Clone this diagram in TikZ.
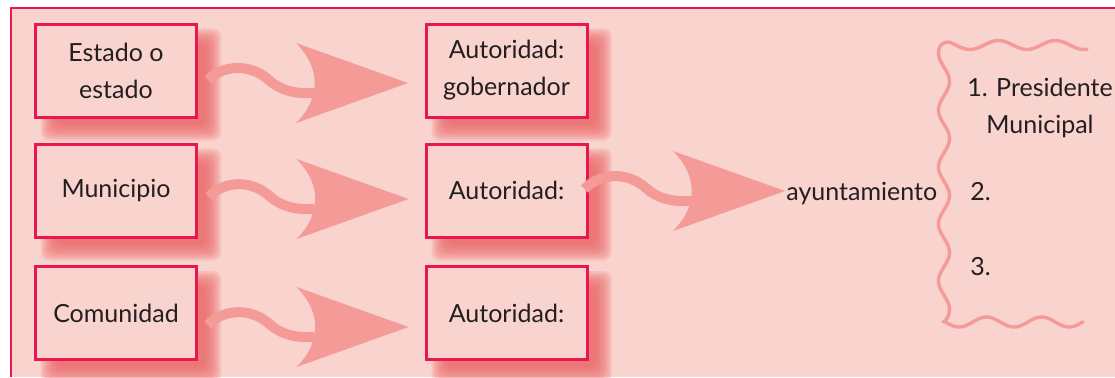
\documentclass[tikz,border=0pt]{standalone}
\usepackage{fontspec}
\setmainfont{Lato}
\usetikzlibrary{calc}
\definecolor{bgpink}{HTML}{F9D3CD}
\definecolor{framered}{HTML}{E8174F}
\definecolor{arrowc}{HTML}{F49A97}
\definecolor{shadowc}{HTML}{EC6769}
\definecolor{textc}{HTML}{231F20}
\pgfdeclarelayer{bottom}
\pgfdeclarelayer{back}
\pgfsetlayers{bottom,back,main}
\newcommand\wavyarrow[2]{%
  \coordinate (ws) at ($#1$);
  \coordinate (wt) at ($#2$);
  \coordinate (wh) at ($(wt)+(-112,0)$);
  \fill[headc] ($(wh)+(0,-40)$) -- (wt) -- ($(wh)+(0,40)$)
     .. controls ($(wh)+(25,15)$) and ($(wh)+(25,-15)$) .. cycle;
  \draw[tailc] (ws) .. controls ($(wh)+(-72,-19)$) and ($(wh)+(-45,-19)$) .. ($(wh)+(-27,-3)$)
     .. controls ($(wh)+(-15,8)$) and ($(wh)+(0,11)$) .. ($(wh)+(18,10)$);
}
\begin{document}
\begin{tikzpicture}[x=0.5pt,y=-0.5pt,
  box/.style={draw=framered, line width=1.5pt, fill=bgpink, minimum width=80.5pt,
    minimum height=46.5pt, align=center, inner sep=0pt,
    font=\fontsize{12.5}{18.5}\selectfont, text=textc},
  lbl/.style={inner sep=0pt, font=\fontsize{12.5}{18.5}\selectfont, text=textc},
  tailc/.style={draw=arrowc, line width=5pt},
  headc/.style={fill=arrowc},
  wave/.style={draw=arrowc, line width=1.7pt, line cap=round, line join=round}]
\useasboundingbox (0,0) rectangle (1115,377);
\begin{pgfonlayer}{bottom}
\fill[white] (0,0) rectangle (1115,377);
\fill[bgpink] (11,8) rectangle (1115,377);
\draw[framered, line width=1.25pt] (1115,8) -- (11,8) -- (11,377);
\end{pgfonlayer}

\node[box] (est) at (116,70.5) {Estado o\\estado};
\node[box] (mun) at (116,190.5) {Municipio};
\node[box] (com) at (116,313) {Comunidad};
\node[box] (aut1) at (506.5,70.5) {Autoridad:\\gobernador};
\node[box] (aut2) at (506.5,190.5) {Autoridad:};
\node[box] (aut3) at (506.5,313) {Autoridad:};
\node[lbl, anchor=base west] (ayto) at (786,200) {ayuntamiento};
\node[lbl, align=center] (p1) at (1040,108) {1. Presidente\\Municipal};
\node[lbl, anchor=base west] (p2) at (970,200) {2.};
\node[lbl, anchor=base west] (p3) at (970,275) {3.};

\begin{pgfonlayer}{back}
\foreach \n in {est,mun,com,aut1,aut2,aut3}{
  \foreach \e in {8,6,4,2,0,-2,-4,-6,-8}{
    \fill[shadowc, opacity=0.18, rounded corners=4pt]
      ($(\n.north west)+(15-\e,14-\e)$) rectangle ($(\n.south east)+(15+\e,14+\e)$);
  }}
\end{pgfonlayer}

\wavyarrow{(est.east)+(10,9.5)}{(aut1.west)+(-16.5,12.5)}
\wavyarrow{(mun.east)+(11,6.5)}{(aut2.west)+(-16,8.5)}
\wavyarrow{(com.east)+(10,12)}{(aut3.west)+(-16,14)}
\wavyarrow{(aut2.east)+(-4,-1.5)}{(ayto.base west)+(-1,-9)}

\draw[wave] plot[domain=1087:950, samples=80, variable=\t] (\t, {45+4.5*cos(6.3158*(\t-970))})
  .. controls (942,41) and (938,47) .. (938.5,53)
  -- plot[domain=53:315, samples=150, variable=\t] ({944-5.5*cos(6.3158*(\t-53))}, \t)
  .. controls (947,319) and (945,322) .. (943,322)
  -- plot[domain=944:1083, samples=80, variable=\t] (\t, {322+5*cos(6.5455*(\t-959))});
\end{tikzpicture}
\end{document}
